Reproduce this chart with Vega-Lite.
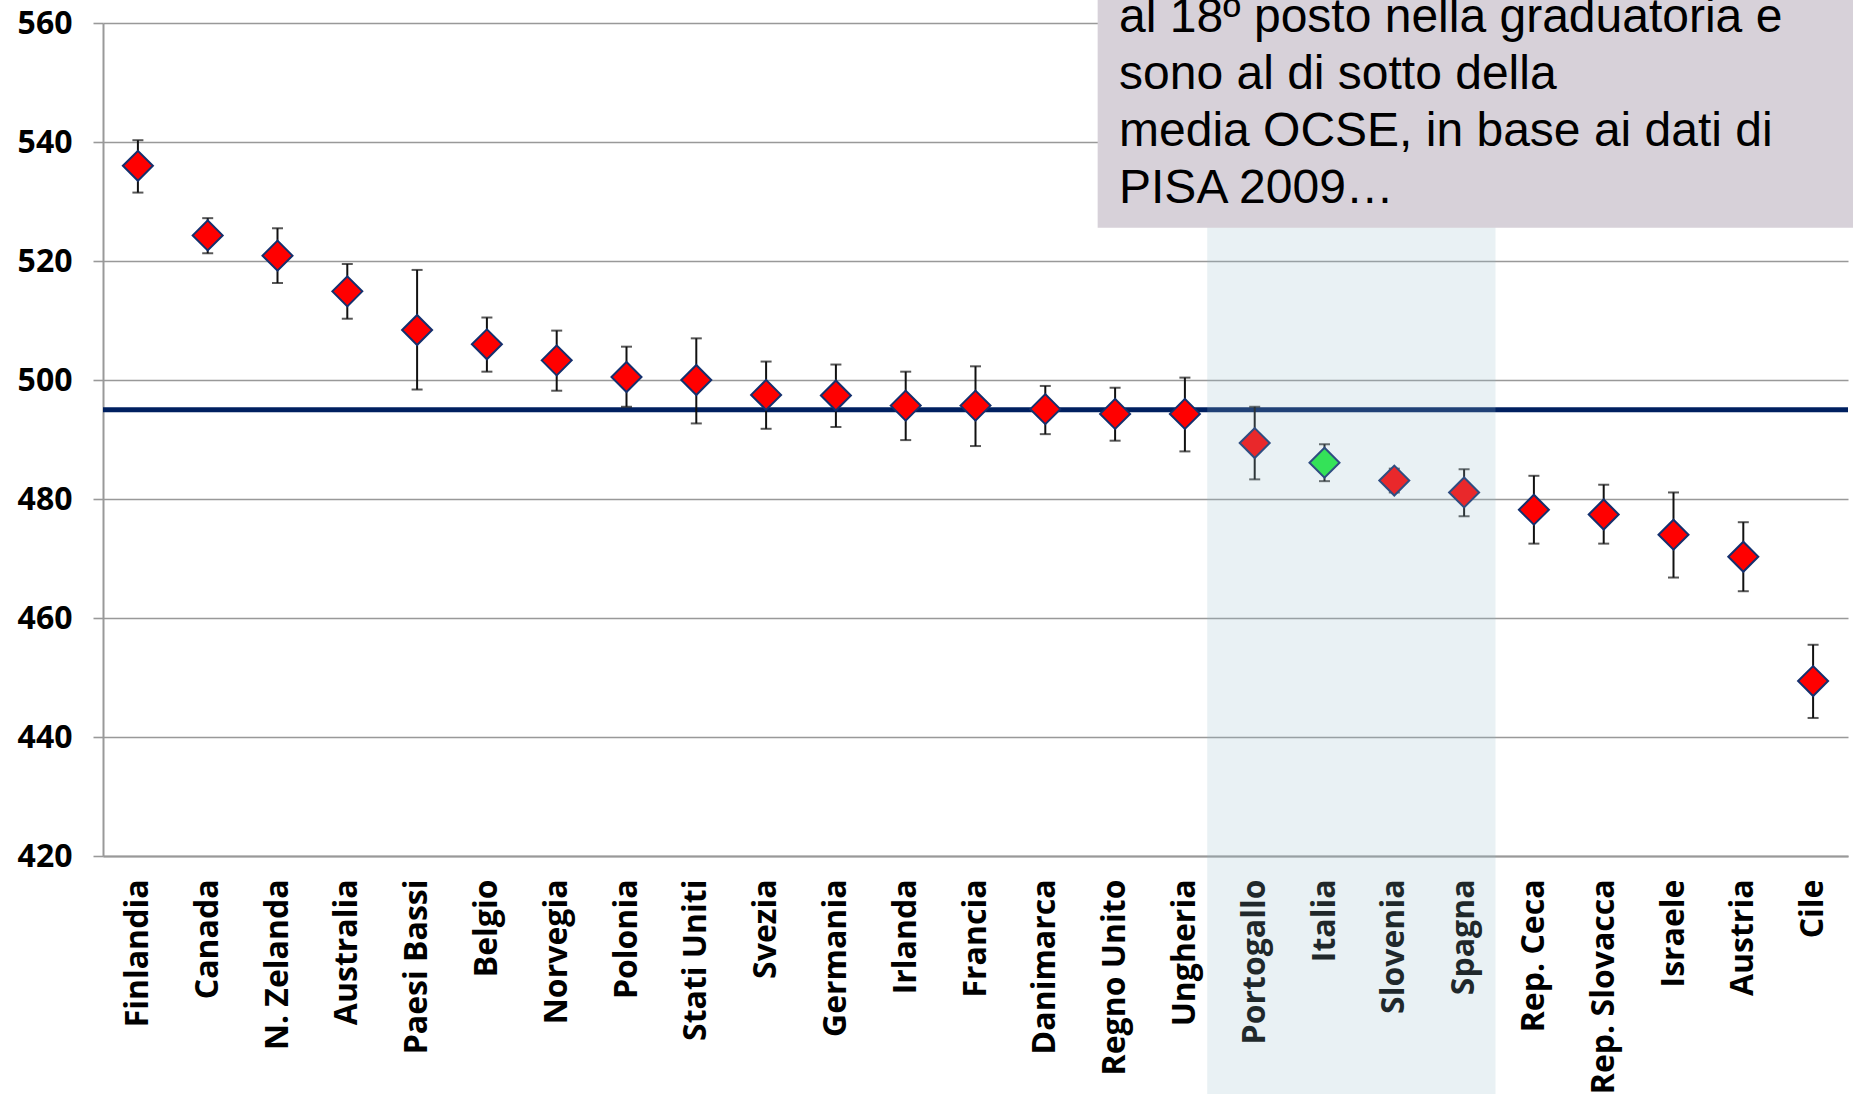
{
  "$schema": "https://vega.github.io/schema/vega-lite/v6.json",
  "autosize": "none",
  "padding": {"left": 103, "top": 23, "right": 5, "bottom": 238},
  "width": 1745,
  "height": 833,
  "background": "white",
  "config": {"view": {"stroke": null}},
  "datasets": {
    "scores": [
      {"paese": "Finlandia", "punteggio": 536.0, "min": 531.5, "max": 540.3},
      {"paese": "Canada", "punteggio": 524.3, "min": 521.3, "max": 527.2},
      {"paese": "N. Zelanda", "punteggio": 520.9, "min": 516.3, "max": 525.5},
      {"paese": "Australia", "punteggio": 514.9, "min": 510.3, "max": 519.5},
      {"paese": "Paesi Bassi", "punteggio": 508.4, "min": 498.4, "max": 518.5},
      {"paese": "Belgio", "punteggio": 506.0, "min": 501.4, "max": 510.5},
      {"paese": "Norvegia", "punteggio": 503.3, "min": 498.2, "max": 508.3},
      {"paese": "Polonia", "punteggio": 500.5, "min": 495.5, "max": 505.6},
      {"paese": "Stati Uniti", "punteggio": 500.0, "min": 492.7, "max": 507.0},
      {"paese": "Svezia", "punteggio": 497.5, "min": 491.8, "max": 503.1},
      {"paese": "Germania", "punteggio": 497.4, "min": 492.1, "max": 502.6},
      {"paese": "Irlanda", "punteggio": 495.7, "min": 489.9, "max": 501.4},
      {"paese": "Francia", "punteggio": 495.7, "min": 488.9, "max": 502.3},
      {"paese": "Danimarca", "punteggio": 495.1, "min": 490.9, "max": 499.0},
      {"paese": "Regno Unito", "punteggio": 494.3, "min": 489.8, "max": 498.7},
      {"paese": "Ungheria", "punteggio": 494.3, "min": 488.0, "max": 500.4},
      {"paese": "Portogallo", "punteggio": 489.4, "min": 483.3, "max": 495.5},
      {"paese": "Italia", "punteggio": 486.1, "min": 483.0, "max": 489.2},
      {"paese": "Slovenia", "punteggio": 483.1, "min": 481.1, "max": 485.1},
      {"paese": "Spagna", "punteggio": 481.1, "min": 477.1, "max": 485.0},
      {"paese": "Rep. Ceca", "punteggio": 478.2, "min": 472.5, "max": 483.9},
      {"paese": "Rep. Slovacca", "punteggio": 477.4, "min": 472.5, "max": 482.4},
      {"paese": "Israele", "punteggio": 474.0, "min": 466.8, "max": 481.1},
      {"paese": "Austria", "punteggio": 470.3, "min": 464.5, "max": 476.1},
      {"paese": "Cile", "punteggio": 449.4, "min": 443.2, "max": 455.5}
    ]
  },
  "layer": [
    {
      "data": {"name": "scores"},
      "encoding": {
        "x": {
          "field": "paese",
          "type": "nominal",
          "sort": null,
          "scale": {"paddingInner": 0, "paddingOuter": 0},
          "axis": {
            "title": null,
            "labelAngle": -90,
            "labelFont": "Open Sans",
            "labelFontWeight": "bold",
            "labelFontSize": 32,
            "labelColor": "black",
            "labelPadding": 23,
            "labelLimit": 0,
            "ticks": false,
            "domainColor": "#999999",
            "domainWidth": 2,
            "grid": false
          }
        }
      },
      "layer": [
        {
          "data": {"values": [{"media": 495}]},
          "mark": {"type": "rule", "color": "#002060", "strokeWidth": 5},
          "encoding": {
            "x": null,
            "y": {
              "field": "media",
              "type": "quantitative",
              "scale": {"domain": [420, 560], "nice": false, "zero": false},
              "axis": {
                "title": null,
                "values": [420, 440, 460, 480, 500, 520, 540, 560],
                "grid": true,
                "gridColor": "#999999",
                "gridWidth": 1.6,
                "domainColor": "#999999",
                "domainWidth": 2,
                "tickColor": "#999999",
                "tickWidth": 1.6,
                "tickSize": 10,
                "labelFont": "Open Sans",
                "labelFontWeight": "bold",
                "labelFontSize": 32,
                "labelColor": "black",
                "labelPadding": 21
              }
            }
          }
        },
        {
          "mark": {"type": "rule", "color": "#111111", "strokeWidth": 2},
          "encoding": {
            "y": {"field": "min", "type": "quantitative"},
            "y2": {"field": "max"}
          }
        },
        {
          "mark": {"type": "tick", "color": "#111111", "size": 11, "thickness": 2},
          "encoding": {"y": {"field": "min", "type": "quantitative"}}
        },
        {
          "mark": {"type": "tick", "color": "#111111", "size": 11, "thickness": 2},
          "encoding": {"y": {"field": "max", "type": "quantitative"}}
        },
        {
          "mark": {
            "type": "point",
            "shape": "diamond",
            "filled": true,
            "size": 900,
            "opacity": 1,
            "stroke": "#14306E",
            "strokeWidth": 2
          },
          "encoding": {
            "y": {"field": "punteggio", "type": "quantitative"},
            "color": {
              "condition": {"test": "datum.paese === 'Italia'", "value": "#1AEC3A"},
              "value": "#FF0000"
            }
          }
        }
      ]
    },
    {
      "data": {"values": [{}]},
      "mark": {"type": "rect", "color": "#96BCCB", "opacity": 0.21, "clip": false},
      "encoding": {
        "x": {"datum": 15.82, "type": "quantitative", "scale": {"domain": [0, 25], "nice": false, "zero": false}, "axis": null},
        "x2": {"datum": 19.95},
        "y": {"datum": 566, "type": "quantitative"},
        "y2": {"datum": 378}
      }
    },
    {
      "data": {"values": [{}]},
      "mark": {"type": "rect", "color": "#D7D1D9", "opacity": 1, "clip": false},
      "encoding": {
        "x": {"datum": 14.25, "type": "quantitative", "scale": {"domain": [0, 25], "nice": false, "zero": false}, "axis": null},
        "x2": {"datum": 25.5},
        "y": {"datum": 568, "type": "quantitative"},
        "y2": {"datum": 525.6}
      }
    },
    {
      "data": {"values": [{"nota": "al 18º posto nella graduatoria e\nsono al di sotto della\nmedia OCSE, in base ai dati di\nPISA 2009…"}]},
      "mark": {
        "type": "text",
        "font": "Liberation Sans",
        "fontSize": 48,
        "lineHeight": 57,
        "lineBreak": "\n",
        "align": "left",
        "baseline": "alphabetic",
        "color": "black",
        "clip": false
      },
      "encoding": {
        "text": {"field": "nota"},
        "x": {"datum": 14.556, "type": "quantitative", "scale": {"domain": [0, 25], "nice": false, "zero": false}, "axis": null},
        "y": {"datum": 558.5, "type": "quantitative"}
      }
    }
  ],
  "resolve": {"scale": {"x": "independent"}}
}
